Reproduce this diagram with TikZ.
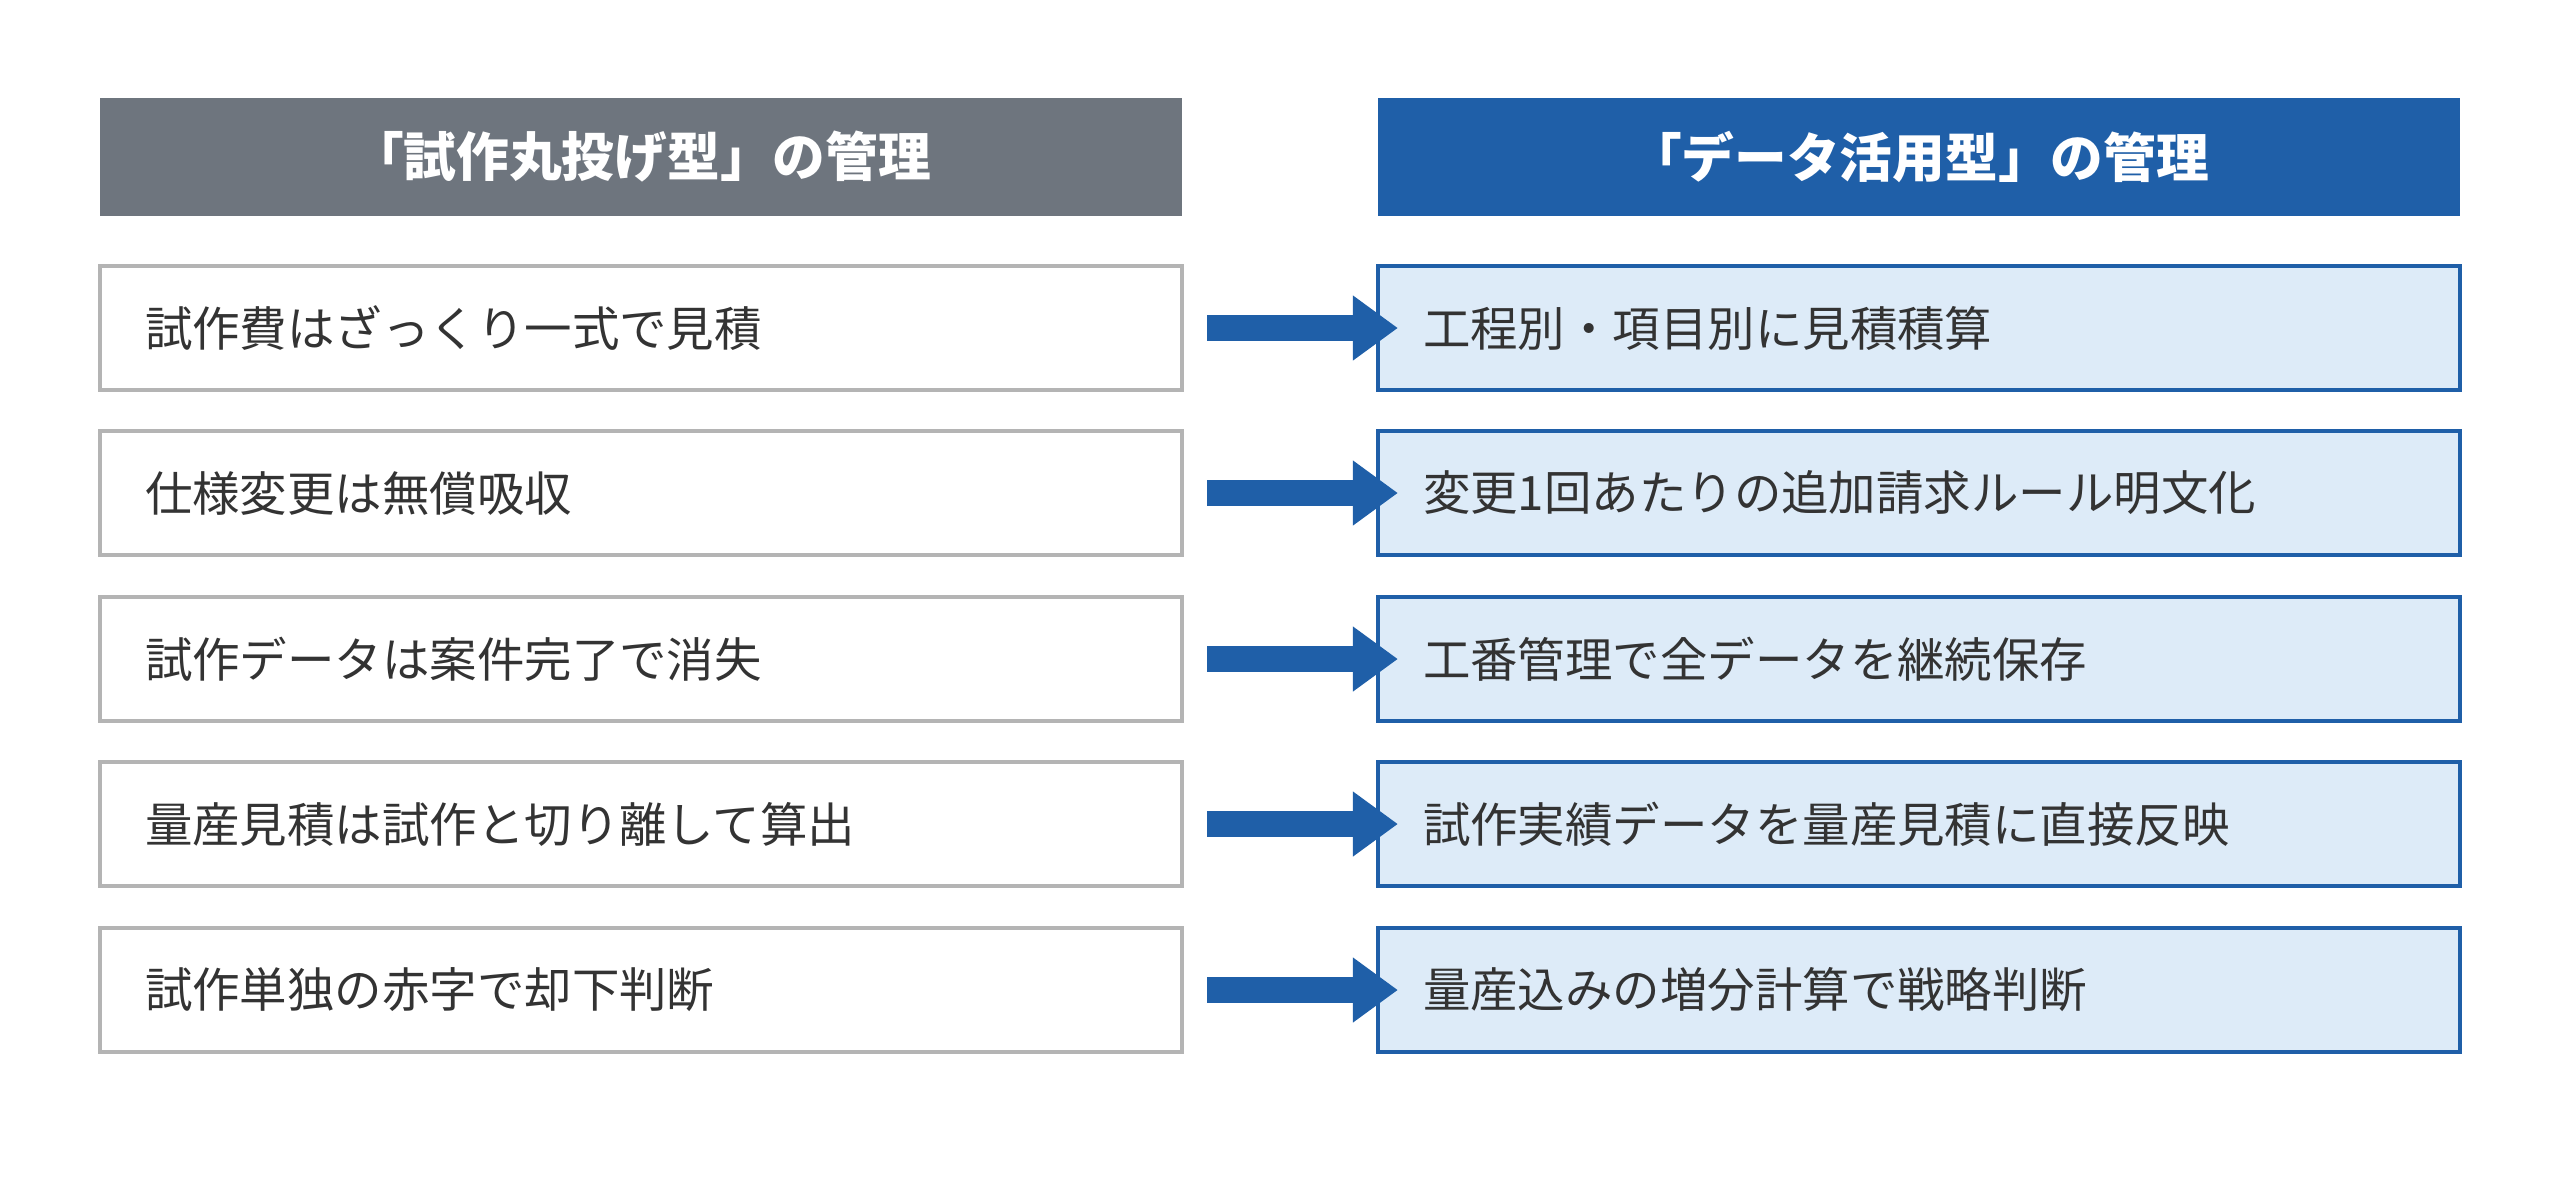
\documentclass[tikz,border=0pt]{standalone}
\usepackage{fontspec}
\setmainfont{Noto Sans CJK JP}
\usetikzlibrary{arrows.meta}
\definecolor{hdgray}{HTML}{6E757E}
\definecolor{hdblue}{HTML}{1F5FA8}
\definecolor{boxfill}{HTML}{DDEBF8}
\definecolor{boxgray}{HTML}{B4B4B4}
\definecolor{txt}{HTML}{333333}
\tikzset{
  head/.style={minimum width=10.82cm, minimum height=1.18cm, inner sep=0pt,
    text=white, font=\fontsize{15}{18}\selectfont\bfseries},
  item/.style={draw, line width=1.2pt, minimum width=10.82cm, minimum height=1.24cm,
    text width=9.92cm, inner xsep=0.45cm, align=left, text=txt,
    font=\fontsize{13.5}{16}\selectfont},
  old/.style={item, draw=boxgray, fill=white},
  new/.style={item, draw=hdblue, fill=boxfill},
  arr/.style={hdblue, line width=0.26cm, -{Triangle[length=0.45cm,width=0.62cm]}}
}
\begin{document}
\begin{tikzpicture}
  \useasboundingbox (0,0) rectangle (25.6,-11.91);
  \node[head, fill=hdgray] (hl) at (6.41,-1.57) {「試作丸投げ型」の管理};
  \node[head, fill=hdblue] (hr) at (19.19,-1.57) {「データ活用型」の管理};
  \foreach \i/\y/\a/\b in {
    1/3.28/試作費はざっくり一式で見積/工程別・項目別に見積積算,
    2/4.93/仕様変更は無償吸収/変更1回あたりの追加請求ルール明文化,
    3/6.59/試作データは案件完了で消失/工番管理で全データを継続保存,
    4/8.24/量産見積は試作と切り離して算出/試作実績データを量産見積に直接反映,
    5/9.90/試作単独の赤字で却下判断/量産込みの増分計算で戦略判断} {
    \node[old] (l\i) at (6.41,-\y) {\a};
    \node[new] (r\i) at (19.19,-\y) {\b};
    \draw[arr] ([xshift=0.23cm]l\i.east) -- ([xshift=0.22cm]r\i.west);
  }
\end{tikzpicture}
\end{document}
